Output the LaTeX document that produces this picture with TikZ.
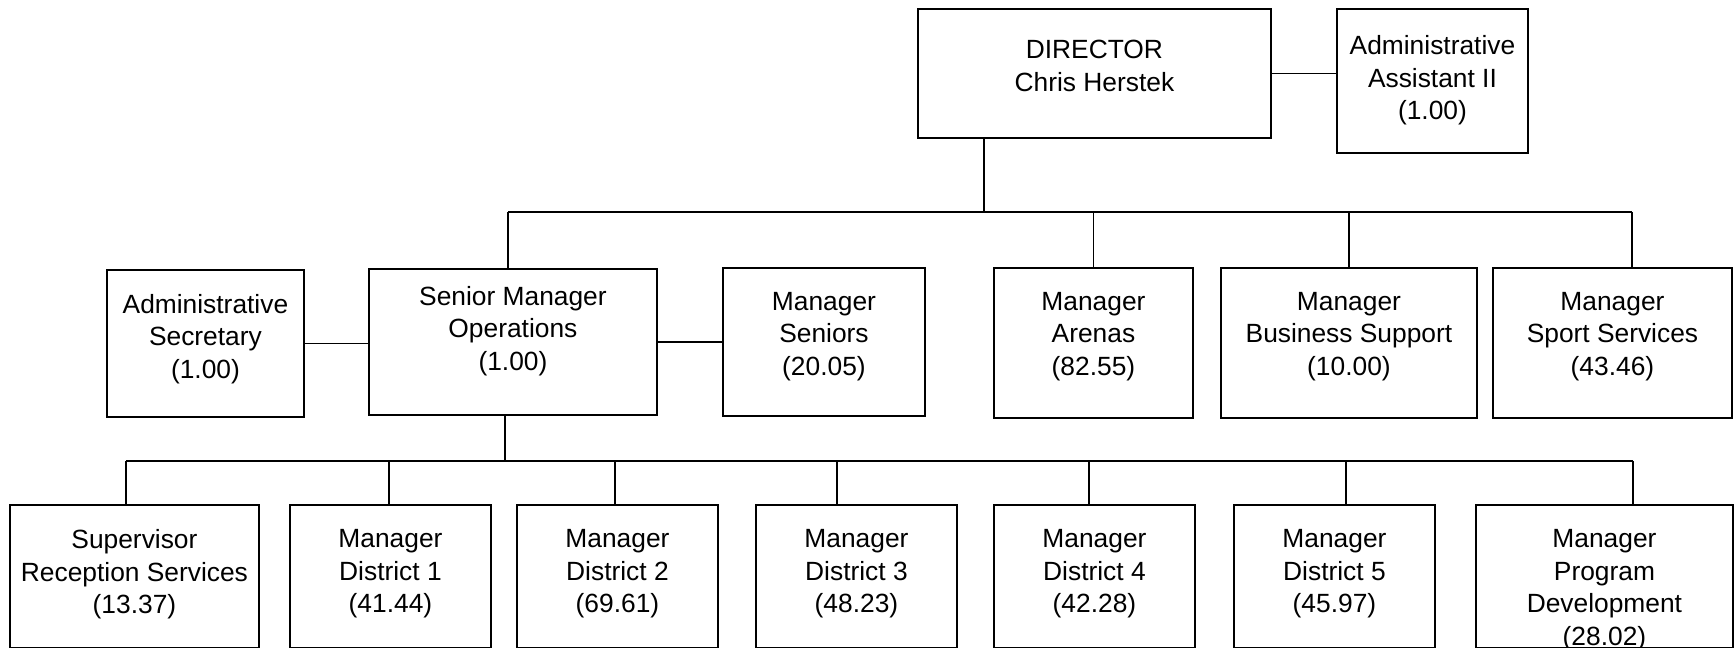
\documentclass[tikz,border=0pt]{standalone}
\usepackage{fontspec}
\setmainfont{Liberation Sans}
\usetikzlibrary{positioning}

\begin{document}
\begin{tikzpicture}[
  x=0.02cm, y=-0.02cm,
  box/.style={rectangle, draw, line width=1.1pt, anchor=north west, inner sep=0pt},
  txt/.style={align=center, anchor=north, inner sep=0pt, font=\fontsize{15}{18.5}\selectfont, yshift=-14pt},
  link/.style={line width=0.8pt}
]
\useasboundingbox (0,0) rectangle (1735,648);

% top level
\node[box, minimum width=7.06cm, minimum height=2.58cm, label={[txt, yshift=-4.2pt]north:DIRECTOR\\Chris Herstek}] (dir) at (917,8) {};
\node[box, minimum width=3.82cm, minimum height=2.88cm, label={[txt, yshift=-1.5pt]north:Administrative\\Assistant II\\(1.00)}] (asst) at (1336,8) {};

% second row
\node[box, minimum width=3.94cm, minimum height=2.94cm, label={[txt]north:Administrative\\Secretary\\(1.00)}] (adsec) at (106,269) {};
\node[box, minimum width=5.76cm, minimum height=2.92cm, label={[txt, yshift=4pt]north:Senior Manager\\Operations\\(1.00)}] (ops) at (368,268) {};
\node[box, minimum width=4.04cm, minimum height=2.96cm, label={[txt]north:Manager\\Seniors\\(20.05)}] (seniors) at (722,267) {};
\node[box, minimum width=3.98cm, minimum height=3cm, label={[txt]north:Manager\\Arenas\\(82.55)}] (arenas) at (993,267) {};
\node[box, minimum width=5.12cm, minimum height=3cm, label={[txt]north:Manager\\Business Support\\(10.00)}] (biz) at (1220,267) {};
\node[box, minimum width=4.78cm, minimum height=3cm, label={[txt]north:Manager\\Sport Services\\(43.46)}] (sport) at (1492,267) {};

% third row
\node[box, minimum width=4.98cm, minimum height=2.86cm, label={[txt, yshift=-0.5pt]north:Supervisor\\Reception Services\\(13.37)}] (recep) at (9,504) {};
\node[box, minimum width=4.02cm, minimum height=2.86cm, label={[txt, yshift=-0.5pt]north:Manager\\District 1\\(41.44)}] (dist1) at (289,504) {};
\node[box, minimum width=4.02cm, minimum height=2.86cm, label={[txt, yshift=-0.5pt]north:Manager\\District 2\\(69.61)}] (dist2) at (516,504) {};
\node[box, minimum width=4.02cm, minimum height=2.86cm, label={[txt, yshift=-0.5pt]north:Manager\\District 3\\(48.23)}] (dist3) at (755,504) {};
\node[box, minimum width=4.02cm, minimum height=2.86cm, label={[txt, yshift=-0.5pt]north:Manager\\District 4\\(42.28)}] (dist4) at (993,504) {};
\node[box, minimum width=4.02cm, minimum height=2.86cm, label={[txt, yshift=-0.5pt]north:Manager\\District 5\\(45.97)}] (dist5) at (1233,504) {};
\node[box, minimum width=5.14cm, minimum height=2.86cm, label={[txt, yshift=-0.5pt]north:Manager\\Program\\Development\\(28.02)}] (progdev) at (1475,504) {};

% bus points
\coordinate (hubA) at (984,212);
\coordinate (busAL) at (508,212);
\coordinate (busAR) at (1632,212);
\coordinate (hubB) at (505,461);
\coordinate (busBL) at (126,461);
\coordinate (busBR) at (1633,461);

% director lines
\draw[link] (dir.east) -- (dir.east -| asst.west);
\draw[link] (dir.south -| hubA) -- (hubA);
\draw[link] (busAL) -- (busAR);
\draw[link] (busAL) -- (busAL |- ops.north);
\draw[link] (arenas.north) -- (arenas.north |- hubA);
\draw[link] (biz.north) -- (biz.north |- hubA);
\draw[link] (busAR) -- (busAR |- sport.north);

% operations lines
\draw[link] (adsec.east) -- (adsec.east -| ops.west);
\draw[link] (ops.east) -- (ops.east -| seniors.west);
\draw[link] (ops.south -| hubB) -- (hubB);
\draw[link] (busBL) -- (busBR);
\foreach \x/\n in {126/recep, 389/dist1, 615/dist2, 837/dist3, 1089/dist4, 1346/dist5, 1633/progdev} {
  \coordinate (drop) at (\x,461);
  \draw[link] (drop) -- (drop |- \n.north);
}
\end{tikzpicture}
\end{document}
